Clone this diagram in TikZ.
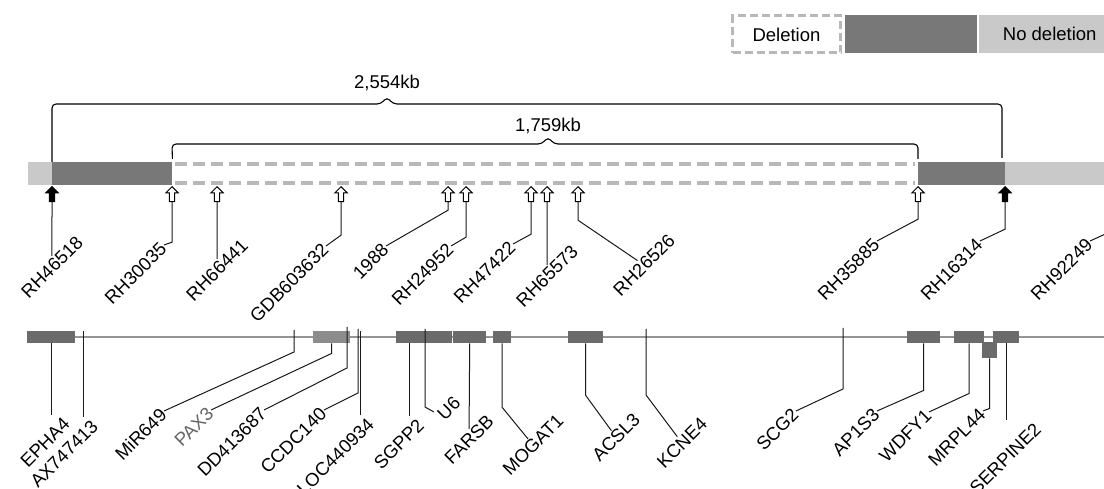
\documentclass[tikz,border=0pt]{standalone}
\usepackage{fontspec}
\setmainfont{Liberation Sans}
\usetikzlibrary{shapes.arrows,calc}
\definecolor{barDark}{gray}{0.47}
\definecolor{barLight}{gray}{0.79}
\definecolor{delGray}{gray}{0.72}
\definecolor{geneDark}{gray}{0.42}
\definecolor{geneLine}{gray}{0.58}
\newcommand{\lblfont}{\fontsize{18.5}{21}\selectfont}
\begin{document}
\begin{tikzpicture}[x=1pt, y=-1pt,
    seg/.style={rectangle, inner sep=0pt, anchor=north west, minimum height=23pt},
    gene/.style={rectangle, fill=geneDark, inner sep=0pt, anchor=north west, minimum height=12pt},
    marker/.style={single arrow, draw=black, line width=1pt, shape border rotate=90, minimum height=15pt, inner sep=2.2pt, single arrow head extend=3.5pt, single arrow head indent=0pt, anchor=tip},
    open marker/.style={marker, fill=white},
    full marker/.style={marker, fill=black},
    lbl/.style={rotate=45, inner sep=1pt, font=\lblfont},
    lead/.style={draw=black!90, line width=1pt},
    bracket/.style={draw=black, line width=1.1pt, rounded corners=4pt},
    deldash/.style={draw=delGray, line width=4pt, dash pattern=on 12pt off 6pt}
]
    \useasboundingbox (0,0) rectangle (1104,489);

    % Legend
    \node[draw=delGray, line width=3pt, dash pattern=on 8pt off 4pt, minimum width=108pt, minimum height=37pt, inner sep=0pt, font=\lblfont] (legdel) at (786.5,34.5) {Deletion};
    \node[seg, fill=barDark, minimum width=132pt, minimum height=38pt] (legdark) at (845,15) {};
    \node[seg, fill=barLight, minimum width=141pt, minimum height=38pt, font=\lblfont] (leglight) at (979,15) {No deletion};

    % Marker bar
    \node[seg, fill=barLight, minimum width=24pt] (barA) at (28,162) {};
    \node[seg, fill=barDark, minimum width=120pt] (barB) at (52,162) {};
    \node[seg, fill=barDark, minimum width=87pt] (barC) at (918,162) {};
    \node[seg, fill=barLight, minimum width=110pt] (barD) at (1005,162) {};
    \draw[deldash] ([xshift=3pt,yshift=-2.5pt]barB.north east) -- ([xshift=-3pt,yshift=-2.5pt]barC.north west);
    \draw[deldash] ([xshift=3pt,yshift=2.5pt]barB.south east) -- ([xshift=-3pt,yshift=2.5pt]barC.south west);

    % Size brackets
    \draw[bracket] (barB.north west) -- (52,104) -- (381,104) -- (387,97) -- (393,104) -- (1002,104) -- (1002,158);
    \node[font=\lblfont, anchor=base] (kbout) at (387,89) {2,554kb};
    \draw[bracket] ([yshift=3pt]barB.north east) -- (172,144) -- (542,144) -- (548,137) -- (554,144) -- (918,144) -- ([yshift=3pt]barC.north west);
    \node[font=\lblfont, anchor=base] (kbin) at (548,132) {1,759kb};

    % Markers
    \node[full marker] (m1) at (52,186) {};
    \node[open marker] (m2) at (172,186) {};
    \node[open marker] (m3) at (217,186) {};
    \node[open marker] (m4) at (341,186) {};
    \node[open marker] (m5) at (448,186) {};
    \node[open marker] (m6) at (466,186) {};
    \node[open marker] (m7) at (531,186) {};
    \node[open marker] (m8) at (547,186) {};
    \node[open marker] (m9) at (578,186) {};
    \node[open marker] (m10) at (918,186) {};
    \node[full marker] (m11) at (1005,186) {};

    % Marker labels
    \node[lbl] (r1) at (52,267) {RH46518};
    \node[lbl, anchor=east] (r2) at (164,245) {RH30035};
    \node[lbl] (r3) at (217,270) {RH66441};
    \node[lbl, anchor=east] (r4) at (326,246) {GDB603632};
    \node[lbl, anchor=east] (r5) at (386,246) {1988};
    \node[lbl, anchor=east] (r6) at (451,246) {RH24952};
    \node[lbl, anchor=east] (r7) at (513,244) {RH47422};
    \node[lbl] (r8) at (547,276) {RH65573};
    \node[lbl] (r9) at (644,265) {RH26526};
    \node[lbl, anchor=east] (r10) at (877,241) {RH35885};
    \node[lbl, anchor=east] (r11) at (980,241) {RH16314};
    \node[lbl, anchor=east] (r12) at (1090,241) {RH92249};
    \coordinate (offright) at (1112,231);

    \draw[lead] (m1.tail) -- (r1);
    \draw[lead] (m2.tail) -- ++(0,40) -- (r2.east);
    \draw[lead] (m3.tail) -- (r3);
    \draw[lead] (m4.tail) -- ++(0,33) -- (r4.east);
    \draw[lead] (m5.tail) -- ++(0,8) -- (r5.east);
    \draw[lead] (m6.tail) -- ++(0,35) -- (r6.east);
    \draw[lead] (m7.tail) -- ++(0,32) -- (r7.east);
    \draw[lead] (m8.tail) -- (r8);
    \draw[lead] (m9.tail) -- ++(0,18) -- (r9);
    \draw[lead] (m10.tail) -- ++(0,17) -- (r10.east);
    \draw[lead] (m11.tail) -- ++(0,27) -- (r11.east);
    \draw[lead] (r12.east) -- (offright);

    % Gene track
    \coordinate (trackstart) at (27,337);
    \coordinate (trackend) at (1110,337);
    \draw[draw=geneLine, line width=2.6pt] (trackstart) -- (trackend);
    \node[gene, minimum width=48pt] (g1) at (27,331) {};
    \node[gene, fill=black!45, minimum width=37pt] (g4) at (313,331) {};
    \node[gene, minimum width=56pt] (g8) at (396,331) {};
    \node[gene, minimum width=33pt] (g10) at (453,331) {};
    \node[gene, minimum width=18pt] (g11) at (493,331) {};
    \node[gene, minimum width=35pt] (g12) at (568,331) {};
    \node[gene, minimum width=33pt] (g15) at (907,331) {};
    \node[gene, minimum width=30pt] (g16) at (954,331) {};
    \node[gene, minimum width=26pt] (g18) at (993,331) {};
    \node[gene, minimum width=15pt, minimum height=16pt] (g17) at (982,342) {};
    \coordinate (t2) at (83,331);
    \coordinate (t3) at (294,330);
    \coordinate (t5) at (347,327);
    \coordinate (t6) at (358,329);
    \coordinate (t7) at (360,331);
    \coordinate (t9) at (425,329);
    \coordinate (t13) at (646,329);
    \coordinate (t14) at (843,328);
    \coordinate (s8) at ([xshift=13pt]g8.south west);

    % Gene labels
    \node[lbl, anchor=north east] (l1) at (62,415) {EPHA4};
    \node[lbl, anchor=north east] (l2) at (90,417) {AX747413};
    \node[lbl, anchor=east] (l3) at (164,411) {MiR649};
    \node[lbl, anchor=east, text=black!60] (l4) at (211,410) {PAX3};
    \node[lbl, anchor=east] (l5) at (264,410) {DD413687};
    \node[lbl, anchor=east] (l6) at (324,410) {CCDC140};
    \node[lbl, anchor=north east] (l7) at (366,415) {LOC440934};
    \node[lbl, anchor=north east] (l8) at (416,416) {SGPP2};
    \node[lbl, anchor=north west] (l9) at (434,412) {U6};
    \node[lbl] (l10) at (469,440) {FARSB};
    \node[lbl] (l11) at (533,445) {MOGAT1};
    \node[lbl] (l12) at (616,437) {ACSL3};
    \node[lbl] (l13) at (682,443) {KCNE4};
    \node[lbl, anchor=east] (l14) at (796,411) {SCG2};
    \node[lbl, anchor=east] (l15) at (877,411) {AP1S3};
    \node[lbl, anchor=east] (l16) at (929,412) {WDFY1};
    \node[lbl, anchor=east] (l17) at (983,411) {MRPL44};
    \node[lbl, anchor=north east] (l18) at (1033,420) {SERPINE2};

    \draw[lead] (g1.south) -- (g1.south |- l1.north east);
    \draw[lead] (t2) -- (t2 |- l2.north east);
    \draw[lead] (t3) -- ++(0,22) -- (l3.east);
    \draw[lead] (g4.south) -- ++(0,10) -- (l4.east);
    \draw[lead] (t5) -- ++(0,41) -- (l5.east);
    \draw[lead] (t6) -- ++(0,64) -- (l6.east);
    \draw[lead] (t7) -- (t7 |- l7.north east);
    \draw[lead] (s8) -- (s8 |- l8.north east);
    \draw[lead] (t9) -- ++(0,78) -- (l9.north west);
    \draw[lead] (g10.south) -- (l10);
    \draw[lead] (g11.south) -- ++(0,64) -- (l11);
    \draw[lead] (g12.south) -- ++(0,52) -- (l12);
    \draw[lead] (t13) -- ++(0,66) -- (l13);
    \draw[lead] (t14) -- ++(0,61) -- (l14.east);
    \draw[lead] (g15.south) -- ++(0,47) -- (l15.east);
    \draw[lead] (g16.south) -- ++(0,50) -- (l16.east);
    \draw[lead] (g17.south) -- ++(0,50) -- (l17.east);
    \draw[lead] (g18.south) -- (g18.south |- l18.north east);
\end{tikzpicture}
\end{document}
